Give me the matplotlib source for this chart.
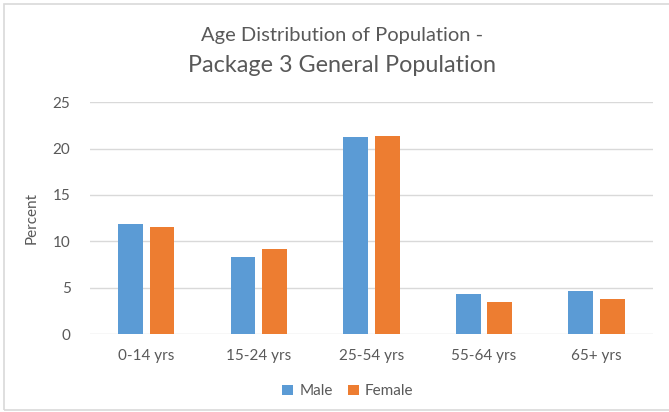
import matplotlib
matplotlib.use('Agg')
import matplotlib.pyplot as plt
import numpy as np
from matplotlib.patches import Rectangle

plt.rcParams['font.family'] = 'Lato'

# data
categories = ['0-14 yrs', '15-24 yrs', '25-54 yrs', '55-64 yrs', '65+ yrs']
male = [11.9, 8.3, 21.3, 4.3, 4.7]
female = [11.6, 9.2, 21.4, 3.5, 3.8]
yticks = [0, 5, 10, 15, 20, 25]

blue = '#5B9BD5'
orange = '#ED7D31'
grey = '#595959'

fig = plt.figure(figsize=(6.69, 4.12), dpi=100)
ax = fig.add_axes([0.1345, 0.189, 0.8415, 0.563])

x = np.arange(len(categories))
w = 0.22
ax.bar(x - 0.14, male, w, color=blue, label='Male', zorder=3)
ax.bar(x + 0.14, female, w, color=orange, label='Female', zorder=3)

ax.set_xlim(-0.5, len(categories) - 0.5)
ax.set_ylim(0, 25)
ax.set_yticks(yticks)
ax.set_xticks(x)
ax.set_xticklabels(categories)
ax.tick_params(axis='both', length=0, colors=grey, labelsize=11)
ax.tick_params(axis='x', pad=11)
ax.tick_params(axis='y', pad=14)
ax.grid(axis='y', color='#D9D9D9', linewidth=1, zorder=0)
for s in ax.spines.values():
    s.set_visible(False)
ax.set_ylabel('Percent', color=grey, fontsize=11, labelpad=10)

fig.text(0.511, 0.915, 'Age Distribution of Population -', ha='center', va='center',
         color=grey, fontsize=14.5)
fig.text(0.511, 0.84, 'Package 3 General Population', ha='center', va='center',
         color=grey, fontsize=16.8)

fig.legend(loc='center', bbox_to_anchor=(0.52, 0.05), ncol=2, frameon=False,
           fontsize=11, labelcolor=grey, handlelength=0.7, handleheight=0.7,
           handletextpad=0.4, columnspacing=1.0)

# chart frame
fig.patches.append(Rectangle((0.006, 0.005), 1.2, 0.985, transform=fig.transFigure,
                             fill=False, edgecolor='#D9D9D9', linewidth=1.2))

fig.savefig('out.png', dpi=100)
